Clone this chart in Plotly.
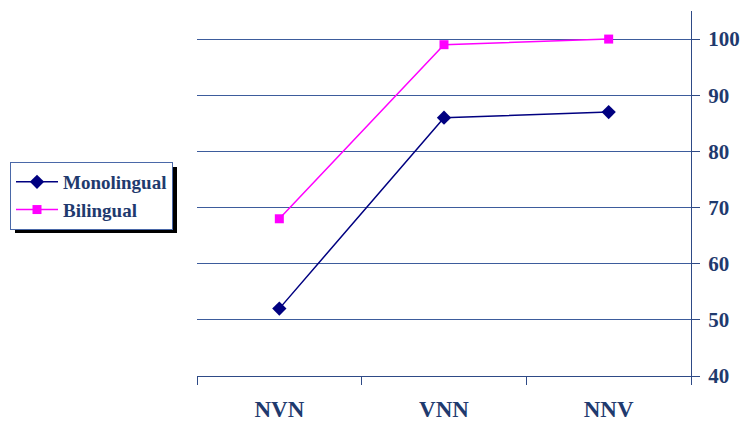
import plotly.graph_objects as go

# Word-order conditions and percentage scores for each group
orders = ["NVN", "VNN", "NNV"]
monolingual = [52, 86, 87]
bilingual = [68, 99, 100]
y_ticks = [40, 50, 60, 70, 80, 90, 100]

AXIS = "#2E4A86"
TEXT = "#1F3A6E"
SERIF = "Liberation Serif, Times New Roman, serif"

fig = go.Figure()
fig.add_trace(go.Scatter(
    x=orders, y=monolingual, name="Monolingual", mode="lines+markers",
    line=dict(color="#000080", width=1.5),
    marker=dict(symbol="diamond", size=11, color="#000080"),
))
fig.add_trace(go.Scatter(
    x=orders, y=bilingual, name="Bilingual", mode="lines+markers",
    line=dict(color="#FF00FF", width=1.5),
    marker=dict(symbol="square", size=9, color="#FF00FF"),
))

# drop shadow behind the legend box
fig.add_shape(type="rect", xref="paper", yref="paper",
              x0=(15 - 197) / 494, x1=(177 - 197) / 494,
              y0=(376 - 233) / 365, y1=(376 - 167) / 365,
              fillcolor="black", line=dict(width=0), layer="above")

fig.update_layout(
    width=743, height=426,
    margin=dict(l=197, r=52, t=11, b=50, autoexpand=False),
    paper_bgcolor="white", plot_bgcolor="white",
    font=dict(family=SERIF, color=TEXT),
    showlegend=True,
    legend=dict(
        x=(10 - 197) / 494, y=(376 - 162) / 365,
        xanchor="left", yanchor="top",
        bgcolor="white", bordercolor="#4A68A8", borderwidth=1,
        font=dict(family=SERIF, size=19, color=TEXT, weight="bold"),
        tracegroupgap=0, itemwidth=42,
    ),
    xaxis=dict(
        type="category", range=[-0.5, 2.5], automargin=False,
        tickson="boundaries", ticks="outside", ticklen=8, tickcolor=AXIS,
        showline=True, linecolor=AXIS, linewidth=1.2,
        showgrid=False, zeroline=False,
        tickfont=dict(family=SERIF, size=23, color=TEXT, weight="bold"),
        ticklabelstandoff=12,
    ),
    yaxis=dict(
        side="right", range=[40, 105], tickvals=y_ticks, automargin=False,
        ticks="outside", ticklen=8, tickcolor=AXIS,
        showline=True, linecolor=AXIS, linewidth=1.2,
        showgrid=True, gridcolor="#3D5C9C", gridwidth=1, zeroline=False,
        tickfont=dict(family=SERIF, size=21, color=TEXT, weight="bold"),
        ticklabelstandoff=4,
    ),
)

fig.write_html("out.html")
